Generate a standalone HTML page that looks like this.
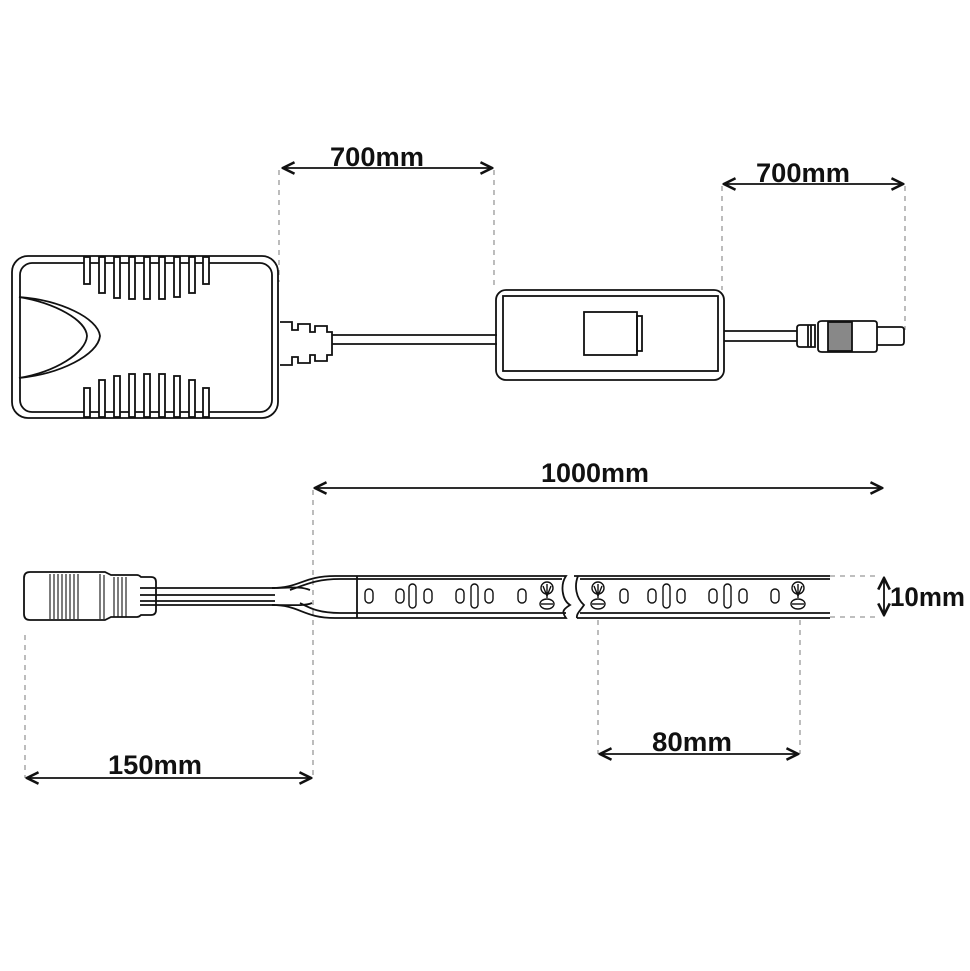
<!DOCTYPE html>
<html><head><meta charset="utf-8"><style>html,body{margin:0;padding:0;background:#fff}svg{display:block}</style></head><body>
<svg width="970" height="971" viewBox="0 0 970 971" xmlns="http://www.w3.org/2000/svg" font-family="Liberation Sans, sans-serif">
<defs>
<marker id="a" viewBox="0 0 10 10" refX="9" refY="5" markerWidth="8" markerHeight="8" orient="auto-start-reverse"><path d="M1,1 L9,5 L1,9" fill="none" stroke="#111" stroke-width="1.8"/></marker>
</defs>
<g fill="none" stroke="#111" stroke-width="1.8">
<g stroke="#999" stroke-width="1.3" stroke-dasharray="5,5">
<line x1="279" y1="170" x2="279" y2="282"/>
<line x1="494" y1="170" x2="494" y2="290"/>
<line x1="722" y1="186" x2="722" y2="290"/>
<line x1="905" y1="186" x2="905" y2="330"/>
<line x1="313" y1="490" x2="313" y2="780"/>
<line x1="25" y1="635" x2="25" y2="778"/>
<line x1="598" y1="620" x2="598" y2="754"/>
<line x1="800" y1="620" x2="800" y2="754"/>
<line x1="830" y1="576" x2="880" y2="576"/>
<line x1="830" y1="617" x2="880" y2="617"/>
</g>
<line x1="283" y1="168" x2="492" y2="168" marker-start="url(#a)" marker-end="url(#a)"/>
<line x1="724" y1="184" x2="903" y2="184" marker-start="url(#a)" marker-end="url(#a)"/>
<line x1="315" y1="488" x2="882" y2="488" marker-start="url(#a)" marker-end="url(#a)"/>
<line x1="27" y1="778" x2="311" y2="778" marker-start="url(#a)" marker-end="url(#a)"/>
<line x1="600" y1="754" x2="798" y2="754" marker-start="url(#a)" marker-end="url(#a)"/>
<line x1="884" y1="578" x2="884" y2="615" marker-start="url(#a)" marker-end="url(#a)"/>
<rect x="12" y="256" width="266" height="162" rx="16"/>
<rect x="20" y="263" width="252" height="149" rx="12"/>
<path d="M19,297 C60,300 98,318 100,336 C98,355 60,374 19,378"/>
<path d="M19,297 C55,303 86,320 87,336 C86,353 55,372 19,378"/>
<g fill="#fff">
<rect x="84" y="257" width="6" height="27"/><rect x="99" y="257" width="6" height="36"/><rect x="114" y="257" width="6" height="41"/><rect x="129" y="257" width="6" height="42"/><rect x="144" y="257" width="6" height="42"/><rect x="159" y="257" width="6" height="42"/><rect x="174" y="257" width="6" height="40"/><rect x="189" y="257" width="6" height="36"/><rect x="203" y="257" width="6" height="27"/>
<rect x="84" y="388" width="6" height="29"/><rect x="99" y="380" width="6" height="37"/><rect x="114" y="376" width="6" height="41"/><rect x="129" y="374" width="6" height="43"/><rect x="144" y="374" width="6" height="43"/><rect x="159" y="374" width="6" height="43"/><rect x="174" y="376" width="6" height="41"/><rect x="189" y="380" width="6" height="37"/><rect x="203" y="388" width="6" height="29"/>
</g>
<path d="M280,322 h12 v8 h6 v-6 h12 v8 h5 v-6 h12 v6 h5 v23 h-5 v6 h-12 v-6 h-5 v8 h-12 v-6 h-6 v8 h-12"/>
<line x1="332" y1="335" x2="497" y2="335"/><line x1="332" y1="344" x2="497" y2="344"/>
<rect x="496" y="290" width="228" height="90" rx="10"/>
<rect x="503" y="296" width="215" height="75"/>
<rect x="584" y="312" width="53" height="43"/>
<rect x="637" y="316" width="5" height="35"/>
<line x1="724" y1="331" x2="797" y2="331"/><line x1="724" y1="341" x2="797" y2="341"/>
<path d="M797,328 q0,-3 3,-3 h15 v22 h-15 q-3,0 -3,-3 z"/><line x1="808" y1="325" x2="808" y2="347"/><line x1="811" y1="325" x2="811" y2="347"/>
<rect x="828" y="322" width="24" height="29" fill="#888"/>
<path d="M818,324 q0,-3 4,-3 h52 q3,0 3,3 v25 q0,3 -3,3 h-52 q-4,0 -4,-3 z"/>
<path d="M877,327 h24 q3,0 3,3 v12 q0,3 -3,3 h-24"/>
<path d="M30,572 h75 l6,3 h26 q2,0 4,2 h10 q5,0 5,5 v28 q0,5 -5,5 h-10 q-2,2 -4,2 h-26 l-6,3 h-75 q-6,0 -6,-6 v-36 q0,-6 6,-6 z"/>
<g stroke-width="1.1"><line x1="50" y1="574" x2="50" y2="619"/><line x1="54" y1="574" x2="54" y2="619"/><line x1="58" y1="574" x2="58" y2="619"/><line x1="62" y1="574" x2="62" y2="619"/><line x1="66" y1="574" x2="66" y2="619"/><line x1="70" y1="574" x2="70" y2="619"/><line x1="74" y1="574" x2="74" y2="619"/><line x1="78" y1="574" x2="78" y2="619"/><line x1="100" y1="574" x2="100" y2="619"/><line x1="104" y1="575" x2="104" y2="619"/><line x1="114" y1="577" x2="114" y2="617"/><line x1="118" y1="577" x2="118" y2="617"/><line x1="122" y1="577" x2="122" y2="617"/><line x1="126" y1="577" x2="126" y2="617"/></g>
<line x1="140" y1="588" x2="275" y2="588"/><line x1="140" y1="595" x2="275" y2="595"/><line x1="140" y1="601" x2="275" y2="601"/><line x1="140" y1="605" x2="275" y2="605"/>
<path d="M272,588 C290,588 300,586 310,590 M272,605 C295,605 305,606 312,603"/>
<path d="M272,588 C300,588 303,576 335,576 H566 C560,585 562,600 570,605 C562,610 562,612 566,618 H335 C303,618 300,605 272,605"/>
<path d="M290,590 C305,585 315,579 340,579 H562 M300,603 C310,608 318,613 340,613 H566"/>
<line x1="357" y1="576" x2="357" y2="618"/>
<path d="M574,576 H830 M580,579 H830 M580,613 H830 M577,618 H830 M578,576 C574,586 576,598 584,605 C580,611 576,614 577,618"/>
<g stroke-width="1.4">
<rect x="365" y="589" width="8" height="14" rx="4"/><rect x="396" y="589" width="8" height="14" rx="4"/><rect x="409" y="584" width="7" height="24" rx="3.5"/><rect x="424" y="589" width="8" height="14" rx="4"/>
<rect x="456" y="589" width="8" height="14" rx="4"/><rect x="471" y="584" width="7" height="24" rx="3.5"/><rect x="485" y="589" width="8" height="14" rx="4"/><rect x="518" y="589" width="8" height="14" rx="4"/>
<rect x="620" y="589" width="8" height="14" rx="4"/><rect x="648" y="589" width="8" height="14" rx="4"/><rect x="663" y="584" width="7" height="24" rx="3.5"/><rect x="677" y="589" width="8" height="14" rx="4"/>
<rect x="709" y="589" width="8" height="14" rx="4"/><rect x="724" y="584" width="7" height="24" rx="3.5"/><rect x="739" y="589" width="8" height="14" rx="4"/><rect x="771" y="589" width="8" height="14" rx="4"/>
<g id="p"><circle cx="547" cy="588" r="6"/><path d="M543,586 l4,10 l4,-10 M547,584 v14"/><ellipse cx="547" cy="604" rx="7" ry="5"/><line x1="541" y1="604" x2="553" y2="604"/></g>
<use href="#p" x="51"/><use href="#p" x="251"/>
</g>
</g>
<g fill="#111" font-size="27" font-weight="bold">
<text x="330" y="166" textLength="94" lengthAdjust="spacingAndGlyphs">700mm</text>
<text x="756" y="182" textLength="94" lengthAdjust="spacingAndGlyphs">700mm</text>
<text x="541" y="482" textLength="108" lengthAdjust="spacingAndGlyphs">1000mm</text>
<text x="108" y="774" textLength="94" lengthAdjust="spacingAndGlyphs">150mm</text>
<text x="652" y="751" textLength="80" lengthAdjust="spacingAndGlyphs">80mm</text>
<text x="890" y="606" textLength="75" lengthAdjust="spacingAndGlyphs">10mm</text>
</g>
</svg>
</body></html>
